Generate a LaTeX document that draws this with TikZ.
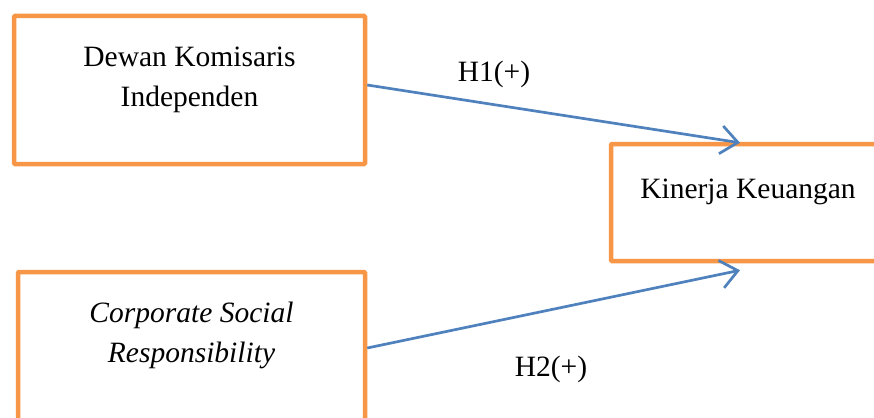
\documentclass[tikz,border=0pt]{standalone}
\usepackage{fontspec}
\setmainfont{Liberation Serif}
\usetikzlibrary{arrows.meta,positioning}
\definecolor{boxorange}{RGB}{247,150,70}
\definecolor{arrowblue}{RGB}{79,129,189}
\tikzset{
  var/.style={
    draw=boxorange, line width=4.5pt, rounded corners=1pt,
    fill=white, inner sep=0pt
  },
  vartext/.style={
    inner sep=0pt, align=center,
    font=\fontsize{29.5}{40}\selectfont
  },
  hyp/.style={
    inner sep=0pt, font=\fontsize{29.5}{34}\selectfont
  },
  arrow/.style={-{Straight Barb[length=17pt,width=28pt,line width=2.7pt]},
    draw=arrowblue, line width=2.7pt}
}
\begin{document}
\begin{tikzpicture}[x=1pt,y=-1pt]
\useasboundingbox (0,0) rectangle (874,417);

% ---------- Independent variables ----------
\node[var, minimum width=351pt, minimum height=148pt] (dki) at (189.5,90) {};
\node[vartext, anchor=north, below=33pt of dki.north] (dkitext)
  {Dewan Komisaris\\Independen};

\node[var, minimum width=347pt, minimum height=150pt] (csr) at (191.5,347) {};
\node[vartext, anchor=north, below=32pt of csr.north] (csrtext)
  {\itshape Corporate Social\\\itshape Responsibility};

% ---------- Dependent variable ----------
\node[var, minimum width=274pt, minimum height=117pt] (kk) at (748,202.5) {};
\node[vartext, anchor=north, below=37pt of kk.north] (kktext) {Kinerja Keuangan};

% ---------- Hypotheses ----------
\draw[arrow] ([yshift=5pt]dki.east) -- ([xshift=-8pt,yshift=-1pt]kk.north);
\draw[arrow] ([yshift=-1pt]csr.east) -- ([xshift=-8pt,yshift=-7pt]kk.south);

\node[hyp] (h1) at (494,74) {H1(+)};
\node[hyp] (h2) at (551,369) {H2(+)};

\end{tikzpicture}
\end{document}
